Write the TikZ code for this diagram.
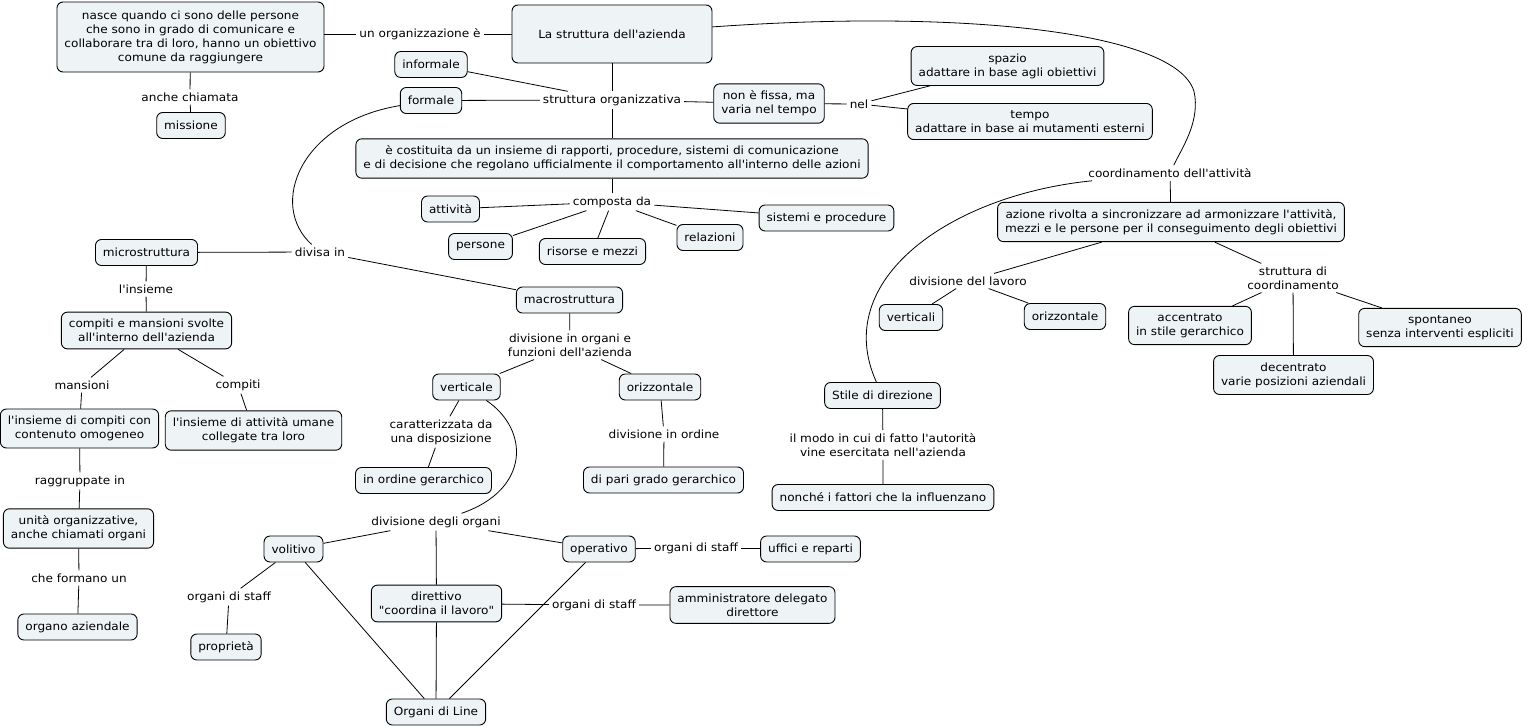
\documentclass[tikz,border=0pt]{standalone}
\usepackage{fontspec}
\newfontfamily\mapfont[FakeStretch=1.07]{DejaVu Sans}
\definecolor{boxfill}{HTML}{EEF3F6}
\begin{document}
\begin{tikzpicture}[x=1pt,y=-1pt,
  box/.style={draw=black, fill=boxfill, rounded corners=6pt, align=center,
    inner xsep=7.5pt, inner ysep=7pt, minimum height=26pt, line width=0.9pt,
    font=\mapfont\fontsize{11.3}{14}\selectfont},
  lab/.style={align=center, inner sep=3pt,
    font=\mapfont\fontsize{11.3}{14}\selectfont},
  con/.style={line width=0.8pt}]
\useasboundingbox (0,0) rectangle (1527,728);
% nodes
\node[box, minimum width=267pt, minimum height=70pt] (nasce) at (190.5,37) {nasce quando ci sono delle persone\\che sono in grado di comunicare e\\collaborare tra di loro, hanno un obiettivo\\comune da raggiungere};
\node[lab] (l_org) at (420,34) {un organizzazione è};
\node[box, minimum width=200pt, minimum height=58pt] (strutt) at (612,34) {La struttura dell'azienda};
\node[lab] (l_anche) at (190,97) {anche chiamata};
\node[box] (missione) at (191,125.5) {missione};
\node[box] (informale) at (431,64.5) {informale};
\node[box] (formale) at (431,100.5) {formale};
\node[lab] (l_so) at (612,100) {struttura organizzativa};
\node[box] (nonfissa) at (769,103.5) {non è fissa, ma\\varia nel tempo};
\node[lab] (l_nel) at (859,104) {nel};
\node[box] (spazio) at (1007.5,66) {spazio\\adattare in base agli obiettivi};
\node[box] (tempo) at (1030,121.5) {tempo\\adattare in base ai mutamenti esterni};
\node[box] (costit) at (612,158.5) {è costituita da un insieme di rapporti, procedure, sistemi di comunicazione\\e di decisione che regolano ufficialmente il comportamento all'interno delle azioni};
\node[lab] (l_comp) at (612,202) {composta da};
\node[box] (attivita) at (450.5,209) {attività};
\node[box] (persone) at (480.5,246.5) {persone};
\node[box] (risorse) at (592.5,251.5) {risorse e mezzi};
\node[box] (relazioni) at (710,237.5) {relazioni};
\node[box] (sistemi) at (826.5,218) {sistemi e procedure};
\node[lab] (l_div) at (320,252) {divisa in};
\node[box] (micro) at (146.5,252.5) {microstruttura};
\node[lab] (l_ins) at (146,289) {l'insieme};
\node[box] (compiti) at (146.5,330.5) {compiti e mansioni svolte\\all'interno dell'azienda};
\node[lab] (l_mans) at (82,385) {mansioni};
\node[lab] (l_compiti) at (238,385) {compiti};
\node[box] (omog) at (79.5,428.5) {l'insieme di compiti con\\contenuto omogeneo};
\node[box] (umane) at (253.5,430.5) {l'insieme di attività umane\\collegate tra loro};
\node[lab] (l_ragg) at (80,481) {raggruppate in};
\node[box] (unita) at (78.5,528.5) {unità organizzative,\\anche chiamati organi};
\node[lab] (l_form) at (79,578) {che formano un};
\node[box] (organo) at (77.5,627) {organo aziendale};
\node[box] (macro) at (569.5,300) {macrostruttura};
\node[lab] (l_dof) at (570,345) {divisione in organi e\\funzioni dell'azienda};
\node[box] (verticale) at (466.5,387) {verticale};
\node[box] (orizz) at (660,387) {orizzontale};
\node[lab] (l_car) at (441,432) {caratterizzata da\\una disposizione};
\node[box] (gerarch) at (423.5,480.5) {in ordine gerarchico};
\node[lab] (l_dio) at (664,434) {divisione in ordine};
\node[box] (pari) at (663.5,480) {di pari grado gerarchico};
\node[lab] (l_dorg) at (436,522) {divisione degli organi};
\node[box] (volitivo) at (293.5,549) {volitivo};
\node[box] (operativo) at (599,549) {operativo};
\node[box] (direttivo) at (436.5,603.5) {direttivo\\"coordina il lavoro"};
\node[box] (line) at (436,712) {Organi di Line};
\node[lab] (l_st1) at (229,597) {organi di staff};
\node[box] (proprieta) at (226,647) {proprietà};
\node[lab] (l_st2) at (696,548) {organi di staff};
\node[box] (uffici) at (810.5,549) {uffici e reparti};
\node[lab] (l_st3) at (594,605) {organi di staff};
\node[box] (ammin) at (752.5,605) {amministratore delegato\\direttore};
\node[lab] (l_coord) at (1170,173) {coordinamento dell'attività};
\node[box] (azione) at (1171,222) {azione rivolta a sincronizzare ad armonizzare l'attività,\\mezzi e le persone per il conseguimento degli obiettivi};
\node[lab] (l_dl) at (968,281) {divisione del lavoro};
\node[box] (verticali) at (911,317.5) {verticali};
\node[box] (orizz2) at (1065,316.5) {orizzontale};
\node[lab] (l_sc) at (1293,278) {struttura di\\coordinamento};
\node[box] (accentr) at (1190,325.5) {accentrato\\in stile gerarchico};
\node[box] (decentr) at (1293.5,375) {decentrato\\varie posizioni aziendali};
\node[box] (spont) at (1440,327.5) {spontaneo\\senza interventi espliciti};
\node[box] (stile) at (882.5,395.5) {Stile di direzione};
\node[lab] (l_modo) at (883,445) {il modo in cui di fatto l'autorità\\vine esercitata nell'azienda};
\node[box] (nonche) at (883,497.5) {nonché i fattori che la influenzano};
% connectors
\draw[con] (nasce.east |- l_org) -- (l_org) -- (strutt);
\draw[con] (nasce) -- (l_anche) -- (missione);
\draw[con] (strutt) -- (l_so);
\draw[con] (informale) -- (l_so);
\draw[con] (formale) -- (l_so);
\draw[con] (l_so) -- (nonfissa);
\draw[con] (l_so) -- (costit);
\draw[con] (nonfissa) -- (l_nel);
\draw[con] (l_nel) -- (spazio);
\draw[con] (l_nel) -- (tempo);
\draw[con] (costit) -- (l_comp);
\draw[con] (l_comp) -- (attivita);
\draw[con] (l_comp) -- (persone);
\draw[con] (l_comp) -- (risorse);
\draw[con] (l_comp) -- (relazioni);
\draw[con] (l_comp) -- (sistemi);
\draw[con] (formale) .. controls (300,122) and (268,205) .. (l_div);
\draw[con] (micro) -- (l_div);
\draw[con] (l_div) -- (macro);
\draw[con] (micro) -- (l_ins) -- (compiti);
\draw[con] (compiti) -- (l_mans) -- (omog);
\draw[con] (compiti) -- (l_compiti) -- (umane);
\draw[con] (omog) -- (l_ragg) -- (unita) -- (l_form) -- (organo);
\draw[con] (macro) -- (l_dof);
\draw[con] (l_dof) -- (verticale);
\draw[con] (l_dof) -- (orizz);
\draw[con] (verticale) -- (l_car) -- (gerarch);
\draw[con] (orizz) -- (l_dio) -- (pari);
\draw[con] (verticale) .. controls (530,430) and (530,490) .. (l_dorg);
\draw[con] (l_dorg) -- (volitivo);
\draw[con] (l_dorg) -- (direttivo);
\draw[con] (l_dorg) -- (operativo);
\draw[con] (volitivo) -- (l_st1) -- (proprieta);
\draw[con] (volitivo) -- (line);
\draw[con] (direttivo) -- (line);
\draw[con] (operativo) -- (line);
\draw[con] (operativo) -- (l_st2) -- (uffici);
\draw[con] (direttivo) -- (l_st3) -- (ammin);
\draw[con] (strutt) .. controls (980,8) and (1190,35) .. (1195,97) .. controls (1198,125) and (1182,148) .. (l_coord);
\draw[con] (l_coord) -- (azione);
\draw[con] (l_coord) .. controls (950,195) and (830,280) .. (stile);
\draw[con] (azione) -- (l_dl);
\draw[con] (l_dl) -- (verticali);
\draw[con] (l_dl) -- (orizz2);
\draw[con] (azione) -- (l_sc);
\draw[con] (l_sc) -- (accentr);
\draw[con] (l_sc) -- (decentr);
\draw[con] (l_sc) -- (spont);
\draw[con] (stile) -- (l_modo) -- (nonche);
\end{tikzpicture}
\end{document}
